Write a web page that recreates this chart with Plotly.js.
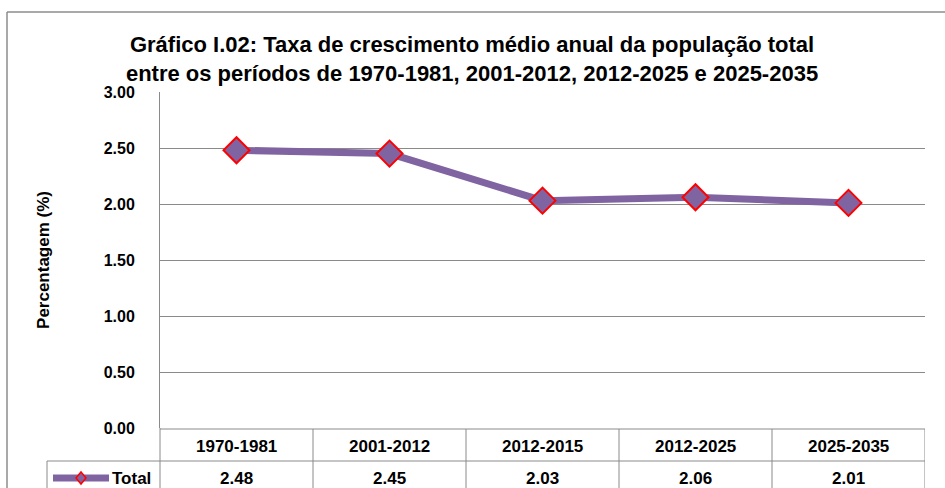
<!DOCTYPE html>
<html><head><meta charset="utf-8">
<script src="https://cdn.plot.ly/plotly-3.0.1.min.js"></script>
<style>html,body{margin:0;padding:0;background:#fff;}</style>
</head><body>
<div id="chart" style="width:945px;height:488px;"></div>
<script>
const categories = ["1970-1981", "2001-2012", "2012-2015", "2012-2025", "2025-2035"];
const values = [2.48, 2.45, 2.03, 2.06, 2.01];
const seriesName = "Total";
const yTicks = [0, 0.5, 1, 1.5, 2, 2.5, 3];

const FONT = "'Liberation Sans Narrow', 'Arial Narrow', 'Liberation Sans', Arial, sans-serif";
const PURPLE = "#8064A2";
const GRID = "#8a8a8a";

const L = 160, R = 20, T = 92, B = 60, W = 945, H = 488;
const pw = W - L - R, ph = H - T - B;
const xp = px => (px - L) / pw;
const yp = py => (H - B - py) / ph;

const idx = categories.map((c, i) => i);

const shapes = [];
function pline(x0, y0, x1, y1, color, width) {
  shapes.push({type: "line", xref: "paper", yref: "paper", x0: xp(x0), y0: yp(y0), x1: xp(x1), y1: yp(y1),
    line: {color: color || GRID, width: width || 1}, layer: "above"});
}
// outer frame
pline(7, 12, 7, 500, "#8c8c8c", 1.5);
pline(7, 12, 960, 12, "#8c8c8c", 1.5);
// data table
pline(160, 429, 925, 429);
pline(47, 461, 925, 461);
pline(160, 428, 160, 500);
pline(47, 461, 47, 500);
categories.forEach((c, i) => {
  shapes.push({type: "line", xref: "x", yref: "paper", x0: i + 0.5, x1: i + 0.5, y0: yp(429), y1: yp(500),
    line: {color: GRID, width: 1}});
});
// legend symbol
pline(53, 478, 109, 478, PURPLE, 7);
const cx = 81, cy = 478, d = 5;
shapes.push({type: "path", xref: "paper", yref: "paper",
  path: `M ${xp(cx - d)} ${yp(cy)} L ${xp(cx)} ${yp(cy - d - 1)} L ${xp(cx + d)} ${yp(cy)} L ${xp(cx)} ${yp(cy + d + 1)} Z`,
  fillcolor: PURPLE, line: {color: "#ff0000", width: 1.5}});

const annotations = [];
categories.forEach((c, i) => {
  annotations.push({x: i, xref: "x", y: yp(446), yref: "paper", xanchor: "center", yanchor: "middle",
    text: c, showarrow: false, font: {family: FONT, size: 17, color: "#000", weight: "bold"}});
  annotations.push({x: i, xref: "x", y: yp(478), yref: "paper", xanchor: "center", yanchor: "middle",
    text: values[i].toFixed(2), showarrow: false, font: {family: FONT, size: 17, color: "#000", weight: "bold"}});
});
annotations.push({x: xp(110), xref: "paper", xanchor: "left", y: yp(478), yref: "paper", yanchor: "middle",
  text: seriesName, showarrow: false, font: {family: FONT, size: 17, color: "#000", weight: "bold"}});

const trace = {
  x: idx, y: values, name: seriesName, type: "scatter", mode: "lines+markers",
  line: {color: PURPLE, width: 7},
  marker: {symbol: "diamond", size: 20, color: PURPLE, line: {color: "#ff0000", width: 2}},
  showlegend: false, cliponaxis: false
};

const layout = {
  width: W, height: H,
  margin: {l: L, r: R, t: T, b: B, pad: 0},
  paper_bgcolor: "#fff", plot_bgcolor: "#fff",
  title: {text: "Gráfico I.02: Taxa de crescimento médio anual da população total<br>entre os períodos de 1970-1981, 2001-2012, 2012-2025 e 2025-2035",
    x: 0.4995, xanchor: "center", y: 1 - 52 / H, yanchor: "top", yref: "container",
    font: {family: FONT, size: 22, color: "#000", weight: "bold"}},
  xaxis: {range: [-0.5, categories.length - 0.5], showgrid: false, zeroline: false, showticklabels: false,
    showline: false, fixedrange: true},
  yaxis: {range: [0, 3], tickvals: yTicks, tickformat: ".2f", showgrid: true, gridcolor: GRID, gridwidth: 1,
    zeroline: false, showline: true, linecolor: GRID, linewidth: 1, ticks: "", ticklabelstandoff: 21,
    tickfont: {family: FONT, size: 16, color: "#000", weight: "bold"},
    title: {text: "Percentagem (%)", standoff: 49, font: {family: FONT, size: 17, color: "#000", weight: "bold"}}},
  shapes: shapes, annotations: annotations
};

Plotly.newPlot("chart", [trace], layout, {displayModeBar: false, staticPlot: true});
</script>
</body></html>
